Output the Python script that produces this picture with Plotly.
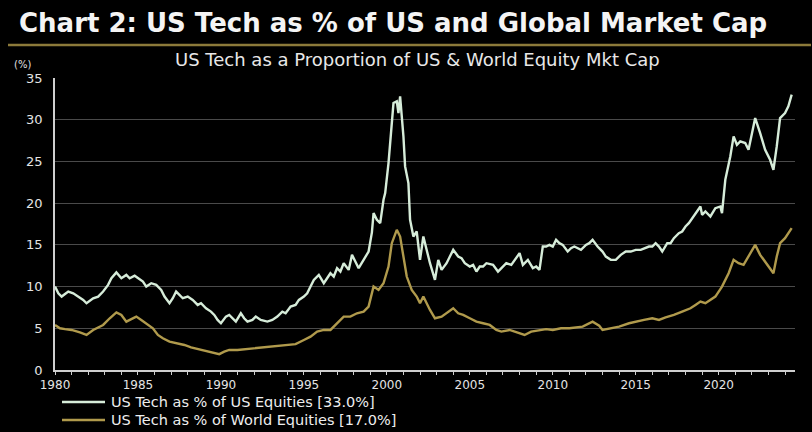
import plotly.graph_objects as go

# US tech weight in US equity market cap (%), decimal years
us_dates = [
    1980.0, 1980.2, 1980.4, 1980.8, 1981.1, 1981.4, 1981.7, 1981.9, 1982.3, 1982.6,
    1982.9, 1983.2, 1983.4, 1983.7, 1984.0, 1984.3, 1984.5, 1984.8, 1985.0, 1985.3,
    1985.5, 1985.8, 1986.1, 1986.4, 1986.6, 1986.9, 1987.1, 1987.3, 1987.5, 1987.7,
    1988.0, 1988.3, 1988.6, 1988.8, 1989.1, 1989.4, 1989.6, 1989.8, 1990.0, 1990.3,
    1990.5, 1990.7, 1990.9, 1991.2, 1991.4, 1991.6, 1991.9, 1992.1, 1992.4, 1992.8,
    1993.1, 1993.4, 1993.7, 1993.9, 1994.2, 1994.5, 1994.7, 1995.0, 1995.2, 1995.4,
    1995.6, 1995.9, 1996.2, 1996.4, 1996.6, 1996.8, 1997.0, 1997.2, 1997.4, 1997.7,
    1997.9, 1998.1, 1998.3, 1998.6, 1998.9, 1999.1, 1999.2, 1999.4, 1999.6, 1999.8,
    1999.9, 2000.1, 2000.3, 2000.4, 2000.6, 2000.7, 2000.8, 2001.0, 2001.1, 2001.3,
    2001.4, 2001.6, 2001.8, 2002.0, 2002.2, 2002.4, 2002.6, 2002.9, 2003.1, 2003.3,
    2003.6, 2003.8, 2004.0, 2004.3, 2004.5, 2004.7, 2005.0, 2005.2, 2005.4, 2005.6,
    2005.8, 2006.0, 2006.4, 2006.7, 2006.9, 2007.2, 2007.5, 2007.8, 2008.0, 2008.2,
    2008.5, 2008.8, 2009.0, 2009.2, 2009.4, 2009.6, 2009.8, 2010.0, 2010.2, 2010.4,
    2010.6, 2010.9, 2011.1, 2011.3, 2011.5, 2011.7, 2012.0, 2012.2, 2012.4, 2012.7,
    2013.0, 2013.2, 2013.5, 2013.8, 2014.1, 2014.4, 2014.7, 2015.0, 2015.3, 2015.6,
    2015.8, 2016.0, 2016.2, 2016.4, 2016.6, 2016.9, 2017.1, 2017.3, 2017.6, 2017.8,
    2018.0, 2018.2, 2018.4, 2018.6, 2018.9, 2019.0, 2019.2, 2019.5, 2019.7, 2019.8,
    2020.1, 2020.2, 2020.4, 2020.7, 2020.9, 2021.1, 2021.3, 2021.6, 2021.8, 2022.0,
    2022.2, 2022.5, 2022.8, 2023.1, 2023.3, 2023.5, 2023.7, 2024.0, 2024.2, 2024.4,
]
us_values = [
    10.0, 9.2, 8.8, 9.4, 9.2, 8.8, 8.4, 8.0, 8.6, 8.8,
    9.4, 10.2, 11.0, 11.7, 11.0, 11.4, 11.0, 11.3, 11.0, 10.6,
    10.0, 10.4, 10.2, 9.6, 8.8, 8.0, 8.6, 9.4, 9.0, 8.6,
    8.8, 8.4, 7.8, 8.0, 7.4, 7.0, 6.6, 6.0, 5.6, 6.4,
    6.6, 6.2, 5.8, 6.8, 6.2, 5.8, 6.0, 6.4, 6.0, 5.8,
    6.0, 6.4, 7.0, 6.8, 7.6, 7.8, 8.4, 8.8, 9.2, 10.0,
    10.8, 11.4, 10.4, 11.0, 11.6, 11.2, 12.2, 11.8, 12.8, 12.0,
    13.8, 13.0, 12.2, 13.2, 14.2, 16.5, 18.8, 18.0, 17.6, 20.4,
    21.2, 24.8, 29.6, 32.0, 32.2, 30.8, 32.8, 28.0, 24.4, 22.4,
    18.0, 16.0, 16.6, 13.2, 16.0, 14.4, 12.8, 10.8, 13.2, 12.0,
    12.8, 13.6, 14.4, 13.6, 13.4, 12.8, 12.4, 12.6, 11.8, 12.4,
    12.4, 12.8, 12.6, 11.8, 12.2, 12.8, 12.6, 13.4, 14.0, 12.6,
    13.2, 12.2, 12.4, 12.0, 14.8, 14.8, 15.0, 14.8, 15.6, 15.2,
    15.0, 14.2, 14.6, 14.8, 14.6, 14.4, 15.0, 15.2, 15.6, 14.8,
    14.2, 13.6, 13.2, 13.2, 13.8, 14.2, 14.2, 14.4, 14.4, 14.6,
    14.8, 14.8, 15.2, 14.8, 14.2, 15.2, 15.2, 15.8, 16.4, 16.6,
    17.2, 17.6, 18.2, 18.8, 19.6, 18.6, 19.0, 18.4, 19.2, 19.4,
    19.6, 18.8, 22.8, 25.6, 28.0, 27.0, 27.4, 27.2, 26.4, 28.4,
    30.2, 28.4, 26.4, 25.2, 24.0, 26.8, 30.2, 30.8, 31.6, 33.0,
]

# US tech weight in world equity market cap (%), decimal years
world_dates = [
    1980.0, 1980.3, 1980.6, 1981.0, 1981.5, 1981.9, 1982.3, 1982.9, 1983.3, 1983.7,
    1984.0, 1984.3, 1984.6, 1984.9, 1985.2, 1985.5, 1985.9, 1986.2, 1986.5, 1986.9,
    1987.3, 1987.8, 1988.2, 1988.8, 1989.3, 1989.9, 1990.2, 1990.5, 1991.0, 1991.5,
    1992.0, 1992.5, 1993.0, 1993.5, 1994.0, 1994.5, 1995.0, 1995.4, 1995.8, 1996.2,
    1996.6, 1997.0, 1997.4, 1997.8, 1998.2, 1998.6, 1998.9, 1999.2, 1999.5, 1999.8,
    2000.1, 2000.3, 2000.6, 2000.8, 2001.0, 2001.2, 2001.5, 2001.8, 2002.0, 2002.2,
    2002.6, 2002.9, 2003.3, 2003.6, 2004.0, 2004.3, 2004.6, 2005.0, 2005.4, 2005.8,
    2006.2, 2006.6, 2006.9, 2007.4, 2007.7, 2008.0, 2008.3, 2008.7, 2009.2, 2009.6,
    2010.0, 2010.5, 2011.0, 2011.4, 2011.8, 2012.4, 2012.8, 2013.0, 2013.5, 2014.0,
    2014.6, 2015.0, 2015.5, 2016.0, 2016.4, 2016.8, 2017.3, 2017.8, 2018.3, 2018.6,
    2018.9, 2019.2, 2019.5, 2019.8, 2020.2, 2020.6, 2020.9, 2021.2, 2021.5, 2021.8,
    2022.2, 2022.5, 2022.8, 2023.0, 2023.3, 2023.5, 2023.7, 2024.0, 2024.2, 2024.4,
]
world_values = [
    5.4, 5.0, 4.9, 4.8, 4.5, 4.2, 4.8, 5.4, 6.2, 6.9,
    6.6, 5.8, 6.1, 6.4, 6.0, 5.6, 5.0, 4.2, 3.8, 3.4,
    3.2, 3.0, 2.7, 2.4, 2.2, 1.9, 2.2, 2.4, 2.4, 2.5,
    2.6, 2.7, 2.8, 2.9, 3.0, 3.1, 3.6, 4.0, 4.6, 4.8,
    4.8, 5.6, 6.4, 6.4, 6.8, 7.0, 7.6, 10.0, 9.6, 10.4,
    12.4, 15.2, 16.8, 16.0, 13.6, 11.2, 9.6, 8.8, 8.0, 8.8,
    7.2, 6.2, 6.4, 6.8, 7.4, 6.8, 6.6, 6.2, 5.8, 5.6,
    5.4, 4.8, 4.6, 4.8, 4.6, 4.4, 4.2, 4.6, 4.8, 4.9,
    4.8, 5.0, 5.0, 5.1, 5.2, 5.8, 5.3, 4.8, 5.0, 5.2,
    5.6, 5.8, 6.0, 6.2, 6.0, 6.3, 6.6, 7.0, 7.4, 7.8,
    8.2, 8.0, 8.4, 8.8, 10.0, 11.6, 13.2, 12.8, 12.6, 13.6,
    15.0, 13.8, 13.0, 12.4, 11.6, 13.6, 15.2, 15.8, 16.4, 17.0,
]

us_label = "US Tech as % of US Equities [33.0%]"
world_label = "US Tech as % of World Equities [17.0%]"
x_ticks = [1980, 1985, 1990, 1995, 2000, 2005, 2010, 2015, 2020]
y_ticks = [0, 5, 10, 15, 20, 25, 30, 35]

US_COLOR = "#d6ecd9"
WORLD_COLOR = "#b09a4c"
FONT = "DejaVu Sans"
W, H = 812, 432
L, R, T, B = 55, 17, 78, 62
PW, PH = W - L - R, H - T - B


def px(xp):
    """Pixel column -> paper x."""
    return (xp - L) / PW


def py(yp):
    """Pixel row -> paper y."""
    return (H - B - yp) / PH


fig = go.Figure()
fig.add_trace(go.Scatter(
    x=us_dates, y=us_values, mode="lines", name=us_label,
    line=dict(color=US_COLOR, width=2.4), showlegend=False,
))
fig.add_trace(go.Scatter(
    x=world_dates, y=world_values, mode="lines", name=world_label,
    line=dict(color=WORLD_COLOR, width=2.4), showlegend=False,
))

# compact two-row key under the axis
key_rows = [(us_label, US_COLOR, 402), (world_label, WORLD_COLOR, 420)]
key_shapes = [
    dict(type="line", xref="paper", yref="paper",
         x0=px(62), x1=px(105), y0=py(yr), y1=py(yr),
         line=dict(color=col, width=2.4))
    for _, col, yr in key_rows
]
key_notes = [
    dict(text=txt, xref="paper", yref="paper", x=px(109), y=py(yr),
         xanchor="left", yanchor="middle", showarrow=False,
         font=dict(size=14.5, color="#eeeeee"))
    for txt, _, yr in key_rows
]

fig.update_layout(
    width=W, height=H,
    margin=dict(l=L, r=R, t=T, b=B, autoexpand=False),
    paper_bgcolor="black", plot_bgcolor="black",
    font=dict(family=FONT, color="#e6e6e6"),
    title=dict(
        text="Chart 2: US Tech as % of US and Global Market Cap",
        x=19 / W, xanchor="left", xref="container",
        y=1 - 23 / H, yanchor="middle", yref="container",
        font=dict(family=FONT, size=26, color="#f4f4f4", weight="bold"),
    ),
    showlegend=False,
    xaxis=dict(
        range=[1980, 2024.6], tickvals=x_ticks,
        showgrid=False, zeroline=False,
        showline=True, linecolor="#cfcfcf", linewidth=1.5,
        ticks="outside", ticklen=3, tickcolor="#cfcfcf",
        minor=dict(dtick=1, ticks="outside", ticklen=3, tickcolor="#cfcfcf"),
        tickfont=dict(size=12, color="#e4e4e4"),
    ),
    yaxis=dict(
        range=[0, 35], tickvals=y_ticks,
        showgrid=True, gridcolor="#4a4a4a", gridwidth=1,
        zeroline=False, showline=True, linecolor="#cfcfcf", linewidth=1.5,
        ticks="", ticklabelstandoff=8,
        tickfont=dict(size=13, color="#e4e4e4"),
    ),
    shapes=[
        # gold rule under the heading
        dict(type="line", xref="paper", yref="paper",
             x0=px(8), x1=px(811), y0=py(45), y1=py(45),
             line=dict(color="#8c7a3a", width=2.5)),
    ] + key_shapes,
    annotations=[
        dict(text="US Tech as a Proportion of US &amp; World Equity Mkt Cap",
             xref="paper", yref="paper", x=px(417), y=py(59),
             xanchor="center", yanchor="middle", showarrow=False,
             font=dict(size=18, color="#e8e8e8")),
        dict(text="(%)", xref="paper", yref="paper", x=px(12), y=py(64),
             xanchor="left", yanchor="middle", showarrow=False,
             font=dict(size=10, color="#e0e0e0")),
    ] + key_notes,
)

fig.write_html("out.html")
